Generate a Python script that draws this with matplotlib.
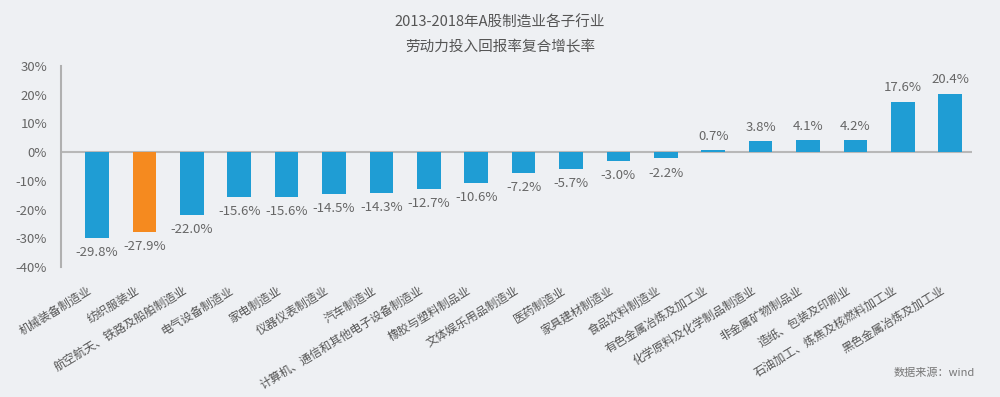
import numpy as np
import matplotlib
matplotlib.use('Agg')
import matplotlib.pyplot as plt

plt.rcParams['font.family'] = ['Noto Sans CJK SC', 'DejaVu Sans']

# 行业及复合增长率(%)
industries = ['机械装备制造业', '纺织服装业', '航空航天、铁路及船舶制造业', '电气设备制造业',
              '家电制造业', '仪器仪表制造业', '汽车制造业', '计算机、通信和其他电子设备制造业',
              '橡胶与塑料制品业', '文体娱乐用品制造业', '医药制造业', '家具建材制造业',
              '食品饮料制造业', '有色金属冶炼及加工业', '化学原料及化学制品制造业',
              '非金属矿物制品业', '造纸、包装及印刷业', '石油加工、炼焦及核燃料加工业',
              '黑色金属冶炼及加工业']
values = [-29.8, -27.9, -22.0, -15.6, -15.6, -14.5, -14.3, -12.7, -10.6, -7.2,
          -5.7, -3.0, -2.2, 0.7, 3.8, 4.1, 4.2, 17.6, 20.4]
highlight = '纺织服装业'
yticks = [-40, -30, -20, -10, 0, 10, 20, 30]

bg = '#eef0f3'
blue = '#1f9dd4'
orange = '#f58a1f'
grey = '#666666'

fig = plt.figure(figsize=(10, 3.97), dpi=100, facecolor=bg)
ax = fig.add_axes([0.061, 0.327, 0.911, 0.507])
ax.set_facecolor(bg)

x = np.arange(len(industries))
colors = [orange if n == highlight else blue for n in industries]
ax.bar(x, values, width=0.5, color=colors, zorder=2)

for xi, v in zip(x, values):
    if v < 0:
        ax.text(xi, v - 2.8, '%.1f%%' % v, ha='center', va='top', fontsize=9.5, color=grey)
    else:
        ax.text(xi, v + 2.5, '%.1f%%' % v, ha='center', va='bottom', fontsize=9.5, color=grey)

ax.set_ylim(-40, 30)
ax.set_xlim(-0.76, len(industries) - 0.54)
ax.set_yticks(yticks)
ax.set_yticklabels(['%d%%' % t for t in yticks], fontsize=9.5, color=grey)
ax.tick_params(axis='y', length=0, pad=10)
ax.tick_params(axis='x', length=0)
ax.set_xticks(x - 0.2)
ax.set_xticklabels(industries, rotation=31, ha='right', va='top', rotation_mode='anchor',
                   fontsize=8.5, color='#555555')
ax.tick_params(axis='x', pad=12)

for s in ['top', 'right', 'bottom']:
    ax.spines[s].set_visible(False)
ax.spines['left'].set_color('#b0b0b0')
ax.spines['left'].set_linewidth(1.5)
ax.axhline(0, color='#b8b8b8', linewidth=1.5, zorder=1)

fig.text(0.5, 0.943, '2013-2018年A股制造业各子行业', ha='center', va='center', fontsize=10.5, color='#555555')
fig.text(0.5, 0.882, '劳动力投入回报率复合增长率', ha='center', va='center', fontsize=10.5, color='#555555')
fig.text(0.975, 0.06, '数据来源：wind', ha='right', va='center', fontsize=8, color='#777777', style='italic')

fig.savefig('out.png', dpi=100, facecolor=bg)
